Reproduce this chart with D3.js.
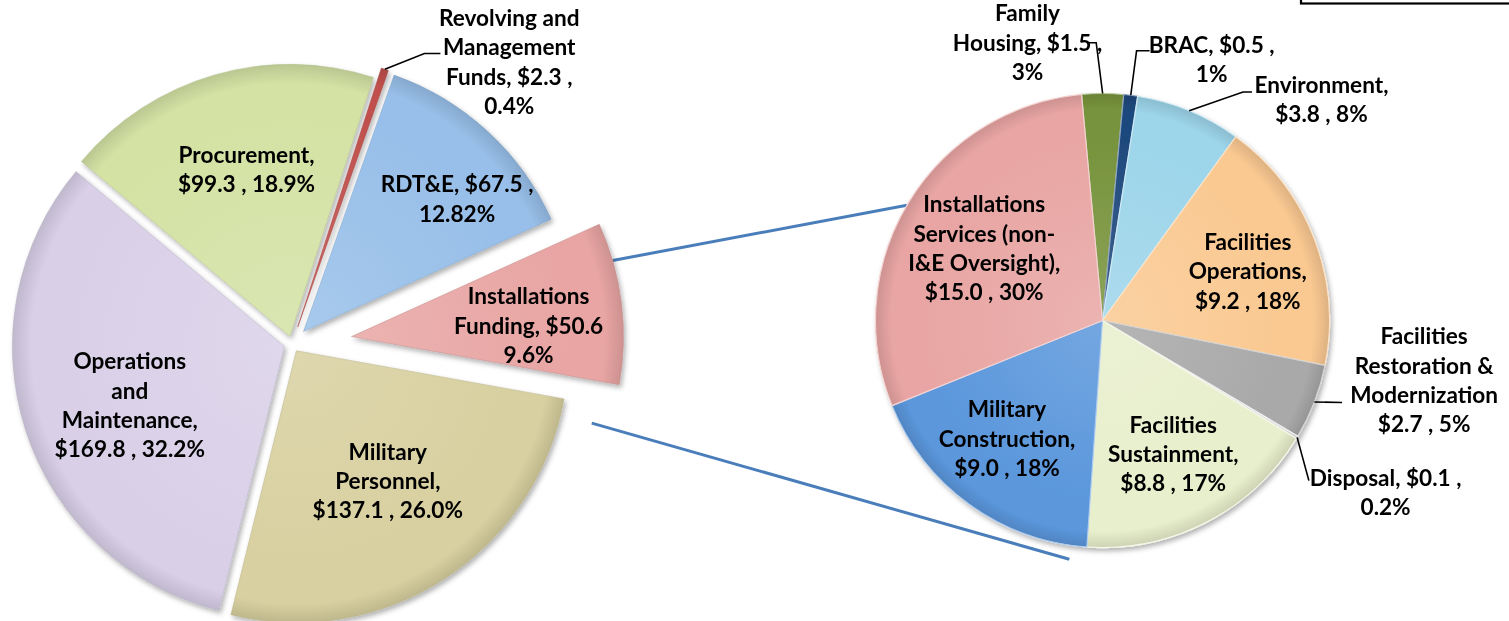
<!DOCTYPE html>
<html><head><meta charset="utf-8">
<script src="https://cdn.jsdelivr.net/npm/d3@7"></script>
<style>
body{margin:0;background:#fff}
svg{display:block}
text{font-family:Lato,'Open Sans',sans-serif;font-weight:700;fill:#000;font-size:22.6px}
</style>
</head><body><svg id="c" width="1509" height="621"></svg>
<script>
// ---------------- data ----------------
const leftCategories = ["Military Personnel","Operations and Maintenance","Procurement","Revolving and Management Funds","RDT&E","Installations Funding"];
const leftValues = [137.1,169.8,99.3,2.3,67.5,50.6];
const leftPctLabels = ["26.0%","32.2%","18.9%","0.4%","12.82%","9.6%"];

const rightCategories = ["Family Housing","BRAC","Environment","Facilities Operations","Facilities Restoration & Modernization","Disposal","Facilities Sustainment","Military Construction","Installations Services (non-I&E Oversight)"];
const rightValues = [1.5,0.5,3.8,9.2,2.7,0.1,8.8,9.0,15.0];
const rightPctLabels = ["3%","1%","8%","18%","5%","0.2%","17%","18%","30%"];

// ---------------- styles / layout ----------------
const leftColors = ["#d8d0a0","#d9d0e8","#d4e2a4","#c0504d","#98bfe9","#e8a5a3"];
const rightColors = ["#77933c","#1f497d","#9dd5ea","#fac992","#a9a9a9","#e0e0e0","#e8efcc","#5b97dc","#e8a5a3"];

const leftTemplates = ["Military|Personnel,|${v} , {p}","Operations|and|Maintenance,|${v} , {p}","Procurement,|${v} , {p}","Revolving and|Management|Funds, ${v} ,|{p}","RDT&E, ${v} ,|{p}","Installations|Funding, ${v}|{p}"];
const rightTemplates = ["Family|Housing, ${v} ,|{p}","BRAC, ${v} ,|{p}","Environment,|${v} , {p}","Facilities|Operations,|${v} , {p}","Facilities|Restoration &|Modernization|${v} , {p}","Disposal, ${v} ,|{p}","Facilities|Sustainment,|${v} , {p}","Military|Construction,|${v} , {p}","Installations|Services (non-|I&E Oversight),|${v} , {p}"];

// label polar placement: [screen angle deg (0 = 3 o'clock, clockwise), distance from pie centre]
const leftLabelPolar = [[55,167],[159.3,173.4],[-104.6,180.5],[-52.4,356],[-41.3,219.7],[-4.5,237.3]];
const rightLabelPolar = [[-105.1,287.8],[-67.3,282.8],[-45.3,311.3],[-18.7,153.4],[10.5,327.1],[31.3,331.3],[62.1,151.1],[128.98,151.8],[-148.5,138.7]];
const leftExplode = [8,8,8,18,17,60];
// leaders: index -> [elbow screen angle, elbow distance, tail dx]
const leftLeaders = {3:[-65.5,319.3,16]};
const rightLeaders = {0:[-91.3,277.8,-9],1:[-82.8,271.9,13],2:[-58.4,268.2,9],4:[18.9,253.2,0],5:[37.8,261.2,0]};

const L = {cx:292, cy:344, r:272, start:100.2};
const R = {cx:1102.5, cy:320.5, r:227, start:-5.3};
const lineH = 29.3;

const rad = d => d*Math.PI/180;
const polar = (cx,cy,angScreen,dist) => [cx+dist*Math.cos(rad(angScreen)), cy+dist*Math.sin(rad(angScreen))];
const fmt = (t,v,p) => t.replace("{v}", v.toFixed(1)).replace("{p}", p).split("|");

const svg = d3.select("#c");
svg.append("rect").attr("width",1509).attr("height",621).attr("fill","#fff");
const defs = svg.append("defs");
const f = defs.append("filter").attr("id","sh").attr("x","-20%").attr("y","-20%").attr("width","140%").attr("height","140%");
f.append("feDropShadow").attr("dx",2).attr("dy",3).attr("stdDeviation",2.5).attr("flood-color","#000").attr("flood-opacity",0.3);

function gradient(id,color,r){
  const g = defs.append("radialGradient").attr("id",id).attr("gradientUnits","userSpaceOnUse")
    .attr("cx",0).attr("cy",0).attr("r",r);
  const c = d3.color(color);
  g.append("stop").attr("offset","0%").attr("stop-color",d3.interpolateRgb(color,"#fff")(0.15));
  g.append("stop").attr("offset","80%").attr("stop-color",color);
  g.append("stop").attr("offset","93%").attr("stop-color",color);
  g.append("stop").attr("offset","100%").attr("stop-color",c.darker(0.35));
}

// top-right box fragment
svg.append("rect").attr("x",1301).attr("y",-60).attr("width",260).attr("height",63.5)
  .attr("fill","none").attr("stroke","#000").attr("stroke-width",2.2);

// pie layouts
const leftArcs = d3.pie().sort(null).value(d=>d).startAngle(rad(L.start)).endAngle(rad(L.start+360))(leftValues);
const rightArcs = d3.pie().sort(null).value(d=>d).startAngle(rad(R.start)).endAngle(rad(R.start+360))(rightValues);
const midScreen = a => (a.startAngle+a.endAngle)/2*180/Math.PI - 90;

// connectors (from exploded Installations slice to secondary pie)
const inst = leftArcs[5];
const instC = polar(L.cx,L.cy,midScreen(inst),leftExplode[5]);
const connectors = [
  [polar(instC[0],instC[1],-16.25,L.r), polar(R.cx,R.cy,-149.5,R.r)],
  [polar(instC[0],instC[1],19.8,255.3), polar(R.cx,R.cy,97.9,241.1)]
];
svg.append("g").selectAll("line").data(connectors).join("line")
  .attr("x1",d=>d[0][0]).attr("y1",d=>d[0][1]).attr("x2",d=>d[1][0]).attr("y2",d=>d[1][1])
  .attr("stroke","#4a7ebb").attr("stroke-width",3);

// left pie
const arcL = d3.arc().innerRadius(0).outerRadius(L.r);
leftColors.forEach((c,i)=>gradient("gl"+i,c,L.r));
const gl = svg.append("g").attr("filter","url(#sh)");
gl.selectAll("path").data(leftArcs).join("path")
  .attr("transform",(d,i)=>{const p=polar(L.cx,L.cy,midScreen(d),leftExplode[i]);return `translate(${p[0]},${p[1]})`;})
  .attr("d",arcL)
  .attr("fill",(d,i)=>`url(#gl${i})`)
  .attr("stroke",(d,i)=>d3.color(leftColors[i]).darker(0.5))
  .attr("stroke-width",0.8).attr("stroke-opacity",0.6);

// right pie
const arcR = d3.arc().innerRadius(0).outerRadius(R.r);
rightColors.forEach((c,i)=>gradient("gr"+i,c,R.r));
const gr = svg.append("g").attr("filter","url(#sh)").attr("transform",`translate(${R.cx},${R.cy})`);
gr.selectAll("path").data(rightArcs).join("path")
  .attr("d",arcR)
  .attr("fill",(d,i)=>`url(#gr${i})`)
  .attr("stroke",(d,i)=>d3.interpolateRgb(rightColors[i],"#fff")(0.5))
  .attr("stroke-width",1.2);

// leader lines
function leaders(arcs,cfg,P,explode){
  Object.keys(cfg).forEach(k=>{
    const i=+k, a=arcs[i], m=midScreen(a);
    const o = explode? polar(P.cx,P.cy,m,explode[i]) : [P.cx,P.cy];
    const s = polar(o[0],o[1],m,P.r);
    const e = polar(P.cx,P.cy,cfg[k][0],cfg[k][1]);
    const pts=[s,e,[e[0]+cfg[k][2],e[1]]];
    svg.append("polyline").attr("points",pts.map(p=>p.join(",")).join(" "))
      .attr("fill","none").attr("stroke","#000").attr("stroke-width",1.6);
  });
}
leaders(leftArcs,leftLeaders,L,leftExplode);
leaders(rightArcs,rightLeaders,R,null);

// labels
function labels(templates,values,pcts,polarPos,P){
  templates.forEach((t,i)=>{
    const lines = fmt(t,values[i],pcts[i]);
    const c = polar(P.cx,P.cy,polarPos[i][0],polarPos[i][1]);
    const y0 = c[1]-(lines.length-1)/2*lineH;
    const txt = svg.append("text").attr("text-anchor","middle");
    lines.forEach((ln,j)=>txt.append("tspan").attr("x",c[0]).attr("y",y0+j*lineH).attr("dy","0.36em").text(ln));
  });
}
labels(leftTemplates,leftValues,leftPctLabels,leftLabelPolar,L);
labels(rightTemplates,rightValues,rightPctLabels,rightLabelPolar,R);
</script>
</body></html>
